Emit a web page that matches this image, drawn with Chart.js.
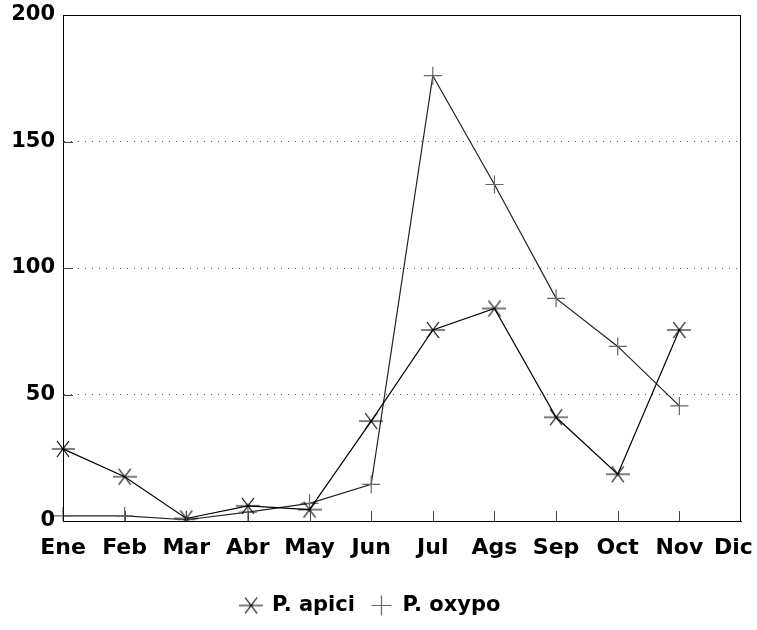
<!DOCTYPE html>
<html>
<head>
<meta charset="utf-8">
<script src="https://cdn.jsdelivr.net/npm/chart.js@4/dist/chart.umd.min.js"></script>
<style>
  html, body { margin: 0; padding: 0; background: #fff; }
  #wrap { width: 757px; height: 630px; position: relative; }
</style>
</head>
<body>
<div id="wrap"><canvas id="c" width="757" height="630"></canvas></div>
<script>
const months = ["Ene", "Feb", "Mar", "Abr", "May", "Jun", "Jul", "Ags", "Sep", "Oct", "Nov", "Dic"];
const apici = [28.5, 17.5, 1, 6, 4.5, 39.5, 75.5, 84, 41, 18.5, 75.5, null];
const oxypo = [2, 2, 0.5, 3.5, 7, 14.5, 176, 133, 88, 69, 45.5, null];
const yTicks = [0, 50, 100, 150, 200];
const seriesNames = ["P. apici", "P. oxypo"];

function makeAsterisk() {
  const c = document.createElement('canvas');
  c.width = 24; c.height = 20;
  const g = c.getContext('2d');
  g.strokeStyle = '#000';
  g.lineWidth = 1.2;
  g.beginPath();
  g.moveTo(0, 10); g.lineTo(24, 10);
  g.moveTo(6, 2); g.lineTo(18, 18);
  g.moveTo(18, 2); g.lineTo(6, 18);
  g.stroke();
  return c;
}
const asterisk = makeAsterisk();

const FONT = "'DejaVu Sans', 'Liberation Sans', Arial, sans-serif";

const framePlugin = {
  id: 'frame',
  afterDatasetsDraw(chart) {
    const { ctx, chartArea: a, scales } = chart;
    ctx.save();
    ctx.strokeStyle = '#000';
    ctx.lineWidth = 1;
    ctx.strokeRect(a.left + 0.5, a.top + 0.5, a.right - a.left - 1, a.bottom - a.top);
    ctx.strokeStyle = '#444';
    months.forEach((m, i) => {
      if (i === 0 || i === months.length - 1) return;
      const x = Math.round(scales.x.getPixelForValue(i)) + 0.5;
      ctx.beginPath();
      ctx.moveTo(x, a.bottom);
      ctx.lineTo(x, a.bottom - 10);
      ctx.stroke();
    });
    yTicks.forEach(v => {
      if (v === 0 || v === 200) return;
      const y = Math.round(scales.y.getPixelForValue(v)) + 0.5;
      ctx.beginPath();
      ctx.moveTo(a.left, y);
      ctx.lineTo(a.left + 10, y);
      ctx.stroke();
    });
    ctx.restore();
  }
};

new Chart(document.getElementById('c'), {
  type: 'line',
  data: {
    labels: months,
    datasets: [
      {
        label: seriesNames[0],
        data: apici,
        borderColor: '#000',
        backgroundColor: '#000',
        borderWidth: 1.2,
        pointStyle: asterisk,
        pointRadius: 10,
        tension: 0,
        fill: false
      },
      {
        label: seriesNames[1],
        data: oxypo,
        borderColor: '#222',
        backgroundColor: '#666',
        pointBorderColor: '#666',
        borderWidth: 1.2,
        pointStyle: 'cross',
        pointRadius: 9,
        pointBorderWidth: 1.2,
        tension: 0,
        fill: false
      }
    ]
  },
  options: {
    responsive: false,
    animation: false,
    events: [],
    layout: { padding: { top: 15, right: 16, left: 0, bottom: 4 } },
    plugins: {
      tooltip: { enabled: false },
      legend: {
        position: 'bottom',
        labels: {
          usePointStyle: true,
          boxHeight: 14,
          color: '#000',
          font: { family: FONT, size: 21, weight: 'bold' },
          padding: 16
        }
      }
    },
    scales: {
      x: {
        type: 'category',
        offset: false,
        grid: { display: false, drawTicks: false },
        border: { display: true, color: '#000', width: 1 },
        ticks: {
          color: '#000',
          font: { family: FONT, size: 22, weight: 'bold' },
          padding: 14,
          maxRotation: 0,
          autoSkip: false,
          callback: function(value, index) {
            const lab = this.getLabelForValue(value);
            return index === months.length - 1 ? lab + '\u00a0\u00a0' : lab;
          }
        },
        afterFit(scale) { scale.height = 58; scale.paddingLeft = 0; scale.paddingRight = 0; }
      },
      y: {
        min: 0,
        max: 200,
        afterBuildTicks(scale) { scale.ticks = yTicks.map(v => ({ value: v })); },
        grid: {
          drawTicks: false,
          color: ctx => (ctx.tick && (ctx.tick.value === 0 || ctx.tick.value === 200)) ? 'rgba(0,0,0,0)' : '#555',
          lineWidth: 1
        },
        border: { display: true, color: '#000', width: 1, dash: [1, 6] },
        ticks: {
          color: '#000',
          font: { family: FONT, size: 21, weight: 'bold' },
          padding: 8
        },
        afterFit(scale) { scale.width = 63; scale.paddingTop = 0; scale.paddingBottom = 0; }
      }
    }
  },
  plugins: [framePlugin]
});
</script>
</body>
</html>
